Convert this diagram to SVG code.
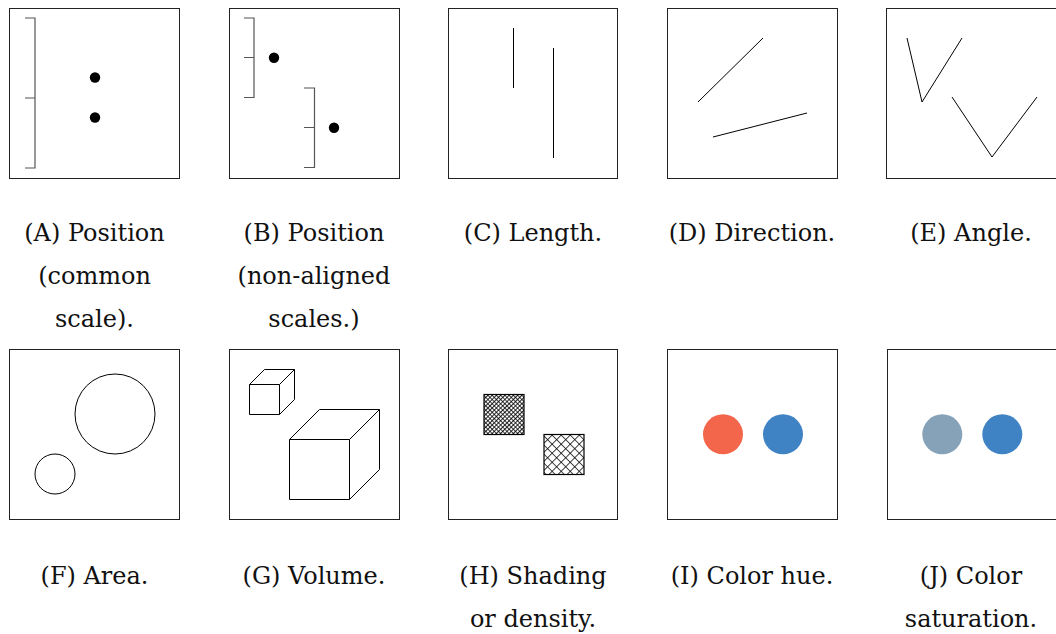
<svg xmlns="http://www.w3.org/2000/svg" width="1056" height="634" viewBox="0 0 1056 634">
<style>
.box{fill:#fff;stroke:#222;stroke-width:1}
.br{fill:none;stroke:#555;stroke-width:1.2}
.ln{fill:none;stroke:#000;stroke-width:1}
.lbl{font-family:"DejaVu Serif","Liberation Serif",serif;font-size:24px;fill:#111;text-anchor:middle}
</style>
<defs>
<pattern id="dense" width="3" height="3" patternUnits="userSpaceOnUse" patternTransform="rotate(45)">
<rect width="3" height="3" fill="#fff"/>
<path d="M0,0H3M0,0V3" stroke="#000" stroke-width="1.7"/>
</pattern>
<pattern id="sparse" width="6.4" height="6.4" patternUnits="userSpaceOnUse" patternTransform="rotate(45)">
<rect width="6.4" height="6.4" fill="#fff"/>
<path d="M0,0H6.4M0,0V6.4" stroke="#000" stroke-width="1.5"/>
</pattern>
</defs>
<rect width="1056" height="634" fill="#fff"/>

<g id="A">
<rect class="box" x="9.5" y="8.5" width="170" height="170"/>
<path class="br" d="M25,18H35V168H25M25,98H35"/>
<circle cx="95" cy="77.5" r="5.2"/>
<circle cx="95" cy="117.5" r="5.2"/>
<text class="lbl" x="94.5" y="241">(A) Position</text>
<text class="lbl" x="94.5" y="284">(common</text>
<text class="lbl" x="94.5" y="327">scale).</text>
</g>

<g id="B">
<rect class="box" x="229.5" y="8.5" width="170" height="170"/>
<path class="br" d="M244,18H254V97.5H244M244,57.5H254"/>
<path class="br" d="M304,88H314.5V167.5H304M304,127.5H314.5"/>
<circle cx="274" cy="57.8" r="5.2"/>
<circle cx="334" cy="127.8" r="5.2"/>
<text class="lbl" x="314" y="241">(B) Position</text>
<text class="lbl" x="314" y="284">(non-aligned</text>
<text class="lbl" x="314" y="327">scales.)</text>
</g>

<g id="C">
<rect class="box" x="448.5" y="8.5" width="169" height="170"/>
<path class="ln" d="M513.5,28V88M553.5,48V158"/>
<text class="lbl" x="533" y="241">(C) Length.</text>
</g>

<g id="D">
<rect class="box" x="667.5" y="8.5" width="170" height="170"/>
<path class="ln" d="M698,102L763,38M713,137L807,113"/>
<text class="lbl" x="752" y="241">(D) Direction.</text>
</g>

<g id="E">
<rect class="box" x="886.5" y="8.5" width="172" height="170"/>
<path class="ln" d="M907,38L922,102L962,38M952,97L992,157L1037,97"/>
<text class="lbl" x="971" y="241">(E) Angle.</text>
</g>

<g id="F">
<rect class="box" x="9.5" y="349.5" width="170" height="170"/>
<circle class="ln" cx="115" cy="414" r="40"/>
<circle class="ln" cx="55" cy="474" r="20"/>
<text class="lbl" x="94.5" y="584">(F) Area.</text>
</g>

<g id="G">
<rect class="box" x="229.5" y="349.5" width="170" height="170"/>
<path class="ln" d="M249.5,384.5H279.5V414.5H249.5ZM249.5,384.5L264.5,369.5H294.5L279.5,384.5M294.5,369.5V399.5L279.5,414.5"/>
<path class="ln" d="M289.5,439.5H349.5V499.5H289.5ZM289.5,439.5L319.5,409.5H379.5L349.5,439.5M379.5,409.5V469.5L349.5,499.5"/>
<text class="lbl" x="314" y="584">(G) Volume.</text>
</g>

<g id="H">
<rect class="box" x="448.5" y="349.5" width="169" height="170"/>
<rect x="484" y="394.5" width="40" height="40" fill="url(#dense)" stroke="#000" stroke-width="1.2"/>
<rect x="544" y="434.5" width="40" height="40" fill="url(#sparse)" stroke="#000" stroke-width="1.2"/>
<text class="lbl" x="533" y="584">(H) Shading</text>
<text class="lbl" x="533" y="627">or density.</text>
</g>

<g id="I">
<rect class="box" x="667.5" y="349.5" width="170" height="170"/>
<circle cx="723" cy="434.3" r="20" fill="#f3664b"/>
<circle cx="783" cy="434.3" r="20" fill="#3f83c5"/>
<text class="lbl" x="752" y="584">(I) Color hue.</text>
</g>

<g id="J">
<rect class="box" x="887.5" y="349.5" width="172" height="170"/>
<circle cx="942.3" cy="434.3" r="20" fill="#86a2b9"/>
<circle cx="1002.3" cy="434.3" r="20" fill="#3f83c5"/>
<text class="lbl" x="971" y="584">(J) Color</text>
<text class="lbl" x="971" y="627">saturation.</text>
</g>
<g id="connectors"/>
</svg>
